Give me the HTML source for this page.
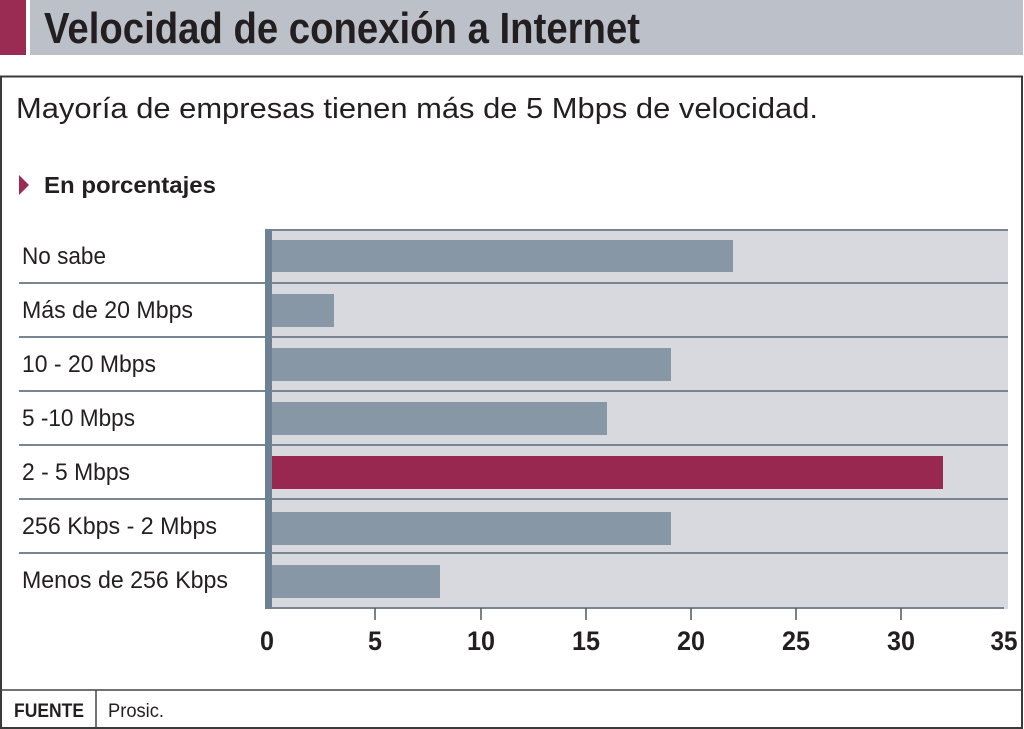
<!DOCTYPE html>
<html><head><meta charset="utf-8"><style>
html,body{margin:0;padding:0;background:#fff;}
svg{display:block;}
text{font-family:"Liberation Sans Narrow","Liberation Sans",sans-serif;fill:#231f20;}
</style></head><body>
<svg width="1024" height="729" viewBox="0 0 1024 729" xmlns="http://www.w3.org/2000/svg">
<!-- header -->
<rect x="0" y="0" width="26" height="55" fill="#9a2b52"/>
<rect x="30" y="0" width="993" height="55" fill="#bcc1c9"/>
<text x="44" y="43" font-size="44" font-weight="bold" textLength="596" lengthAdjust="spacingAndGlyphs">Velocidad de conexión a Internet</text>
<!-- outer box -->
<rect x="1" y="76.5" width="1021" height="651.5" fill="none" stroke="#3a3a3a" stroke-width="2"/>
<text x="16" y="118" font-size="29" textLength="802" lengthAdjust="spacingAndGlyphs">Mayoría de empresas tienen más de 5 Mbps de velocidad.</text>
<polygon points="19,175 29,185 19,195" fill="#9a2b52"/>
<text x="44" y="193" font-size="23" font-weight="bold" textLength="172" lengthAdjust="spacingAndGlyphs">En porcentajes</text>
<!-- plot bg -->
<rect x="265" y="229" width="743" height="380" fill="#d7d9df"/>
<!-- separators -->
<g stroke="#7a8593" stroke-width="2">
<line x1="265" y1="230" x2="1008" y2="230"/>
<line x1="19" y1="283" x2="1008" y2="283"/>
<line x1="19" y1="337" x2="1008" y2="337"/>
<line x1="19" y1="391" x2="1008" y2="391"/>
<line x1="19" y1="445" x2="1008" y2="445"/>
<line x1="19" y1="499" x2="1008" y2="499"/>
<line x1="19" y1="553" x2="1008" y2="553"/>
<line x1="265" y1="608" x2="1004" y2="608"/>
</g>
<!-- bars -->
<g fill="#8797a6">
<rect x="272" y="240" width="461" height="32"/>
<rect x="272" y="294" width="62" height="33"/>
<rect x="272" y="348" width="399" height="33"/>
<rect x="272" y="402" width="335" height="33"/>
<rect x="272" y="512" width="399" height="33"/>
<rect x="272" y="565" width="168" height="33"/>
</g>
<rect x="272" y="456" width="671" height="33" fill="#98284f"/>
<!-- axis band -->
<rect x="265" y="229" width="7" height="380" fill="#6d8195"/>
<!-- ticks -->
<g stroke="#555" stroke-width="1.5">
<line x1="375" y1="608" x2="375" y2="620"/>
<line x1="481" y1="608" x2="481" y2="620"/>
<line x1="586" y1="608" x2="586" y2="620"/>
<line x1="691" y1="608" x2="691" y2="620"/>
<line x1="796" y1="608" x2="796" y2="620"/>
<line x1="901" y1="608" x2="901" y2="620"/>
</g>
<g font-size="27" font-weight="bold" text-anchor="middle">
<text x="267" y="650" textLength="14" lengthAdjust="spacingAndGlyphs">0</text>
<text x="375" y="650" textLength="14" lengthAdjust="spacingAndGlyphs">5</text>
<text x="481" y="650" textLength="28" lengthAdjust="spacingAndGlyphs">10</text>
<text x="586" y="650" textLength="28" lengthAdjust="spacingAndGlyphs">15</text>
<text x="691" y="650" textLength="28" lengthAdjust="spacingAndGlyphs">20</text>
<text x="796" y="650" textLength="28" lengthAdjust="spacingAndGlyphs">25</text>
<text x="901" y="650" textLength="28" lengthAdjust="spacingAndGlyphs">30</text>
<text x="1004" y="650" textLength="27" lengthAdjust="spacingAndGlyphs">35</text>
</g>
<!-- category labels -->
<g font-size="24">
<text x="22" y="264" textLength="84" lengthAdjust="spacingAndGlyphs">No sabe</text>
<text x="22" y="318" textLength="171" lengthAdjust="spacingAndGlyphs">Más de 20 Mbps</text>
<text x="22" y="372" textLength="134" lengthAdjust="spacingAndGlyphs">10 - 20 Mbps</text>
<text x="22" y="426" textLength="113" lengthAdjust="spacingAndGlyphs">5 -10 Mbps</text>
<text x="22" y="480" textLength="108" lengthAdjust="spacingAndGlyphs">2 - 5 Mbps</text>
<text x="22" y="534" textLength="195" lengthAdjust="spacingAndGlyphs">256 Kbps - 2 Mbps</text>
<text x="22" y="588" textLength="206" lengthAdjust="spacingAndGlyphs">Menos de 256 Kbps</text>
</g>
<!-- footer -->
<line x1="0" y1="690" x2="1022" y2="690" stroke="#444" stroke-width="1.5"/>
<line x1="96" y1="690" x2="96" y2="728" stroke="#444" stroke-width="1.5"/>
<text x="14" y="717" font-size="19" font-weight="bold" textLength="70" lengthAdjust="spacingAndGlyphs">FUENTE</text>
<text x="108" y="717" font-size="19" textLength="56" lengthAdjust="spacingAndGlyphs">Prosic.</text>
</svg>
</body></html>
